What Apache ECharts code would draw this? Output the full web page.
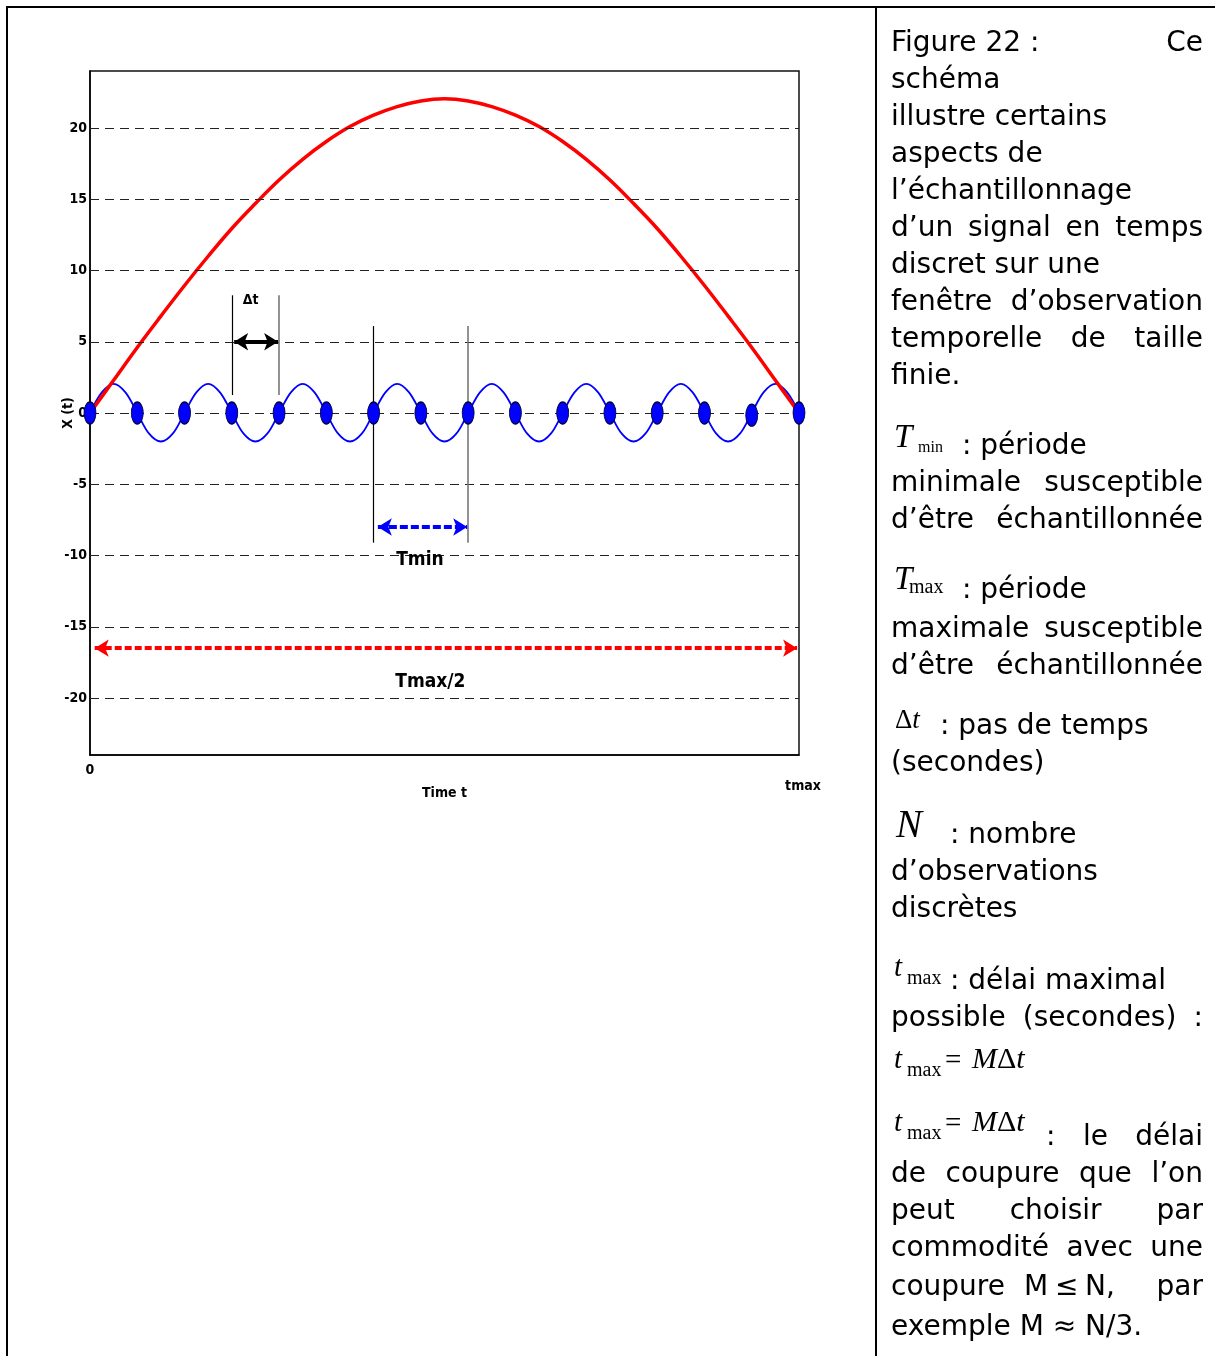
<!DOCTYPE html>
<html>
<head>
<meta charset="utf-8">
<script src="https://cdn.jsdelivr.net/npm/echarts@6/dist/echarts.min.js"></script>
<style>
  html, body { margin: 0; padding: 0; background: #fff; }
  #chart { width: 1215px; height: 1356px; }
</style>
</head>
<body>
<div id="chart"></div>
<script>
// ---- Data ---------------------------------------------------------------
// Sampling instants (multiples of the time step) and the sampled values
const sampleTimes  = [0, 1, 2, 3, 4, 5, 6, 7, 8, 9, 10, 11, 12, 13, 14, 15];
const sampleValues = [0, 0, 0, 0, 0, 0, 0, 0, 0, 0, 0, 0, 0, 0, -0.15, 0];

// Fast oscillation (period of two time steps)
const signalTimes = [
  0, 0.25, 0.5, 0.75, 1, 1.25, 1.5, 1.75, 2, 2.25, 2.5, 2.75, 3, 3.25, 3.5, 3.75,
  4, 4.25, 4.5, 4.75, 5, 5.25, 5.5, 5.75, 6, 6.25, 6.5, 6.75, 7, 7.25, 7.5, 7.75,
  8, 8.25, 8.5, 8.75, 9, 9.25, 9.5, 9.75, 10, 10.25, 10.5, 10.75, 11, 11.25, 11.5, 11.75,
  12, 12.25, 12.5, 12.75, 13, 13.25, 13.5, 13.75, 14, 14.25, 14.5, 14.75, 15
];
const signalValues = [
  0, 1.45, 2.05, 1.45, 0, -1.45, -2, -1.45, 0, 1.45, 2.05, 1.45, 0, -1.45, -2, -1.45,
  0, 1.45, 2.05, 1.45, 0, -1.45, -2, -1.45, 0, 1.45, 2.05, 1.45, 0, -1.45, -2, -1.45,
  0, 1.45, 2.05, 1.45, 0, -1.45, -2, -1.45, 0, 1.45, 2.05, 1.45, 0, -1.45, -2, -1.45,
  0, 1.45, 2.05, 1.45, 0, -1.45, -2, -1.45, 0, 1.45, 2.05, 1.45, 0
];

// Slow component: half a period spread over the observation window
const envelopeTimes = [
  0, 0.5, 1, 1.5, 2, 2.5, 3, 3.5, 4, 4.5, 5, 5.5, 6, 6.5, 7, 7.5,
  8, 8.5, 9, 9.5, 10, 10.5, 11, 11.5, 12, 12.5, 13, 13.5, 14, 14.5, 15
];
const envelopeValues = [
  0, 2.3, 4.6, 6.8, 8.95, 11.0, 12.95, 14.7, 16.35, 17.8, 19.05, 20.1, 20.9, 21.5, 21.9, 22.05,
  21.9, 21.5, 20.9, 20.1, 19.05, 17.8, 16.35, 14.7, 12.95, 11.0, 8.95, 6.8, 4.6, 2.3, 0
];

// Axis ticks
const yTickValues = [-20, -15, -10, -5, 0, 5, 10, 15, 20];
const xTickValues = [0, 15];
const xTickLabels = ['0', 'tmax'];

// Annotations (in axis units)
const annotationNames = ['\u0394t', 'Tmin', 'Tmax/2'];
const stepGuides  = { times: [3, 4], from: 1.26, to: 8.26 };
const stepArrow   = { from: 3.05, to: 3.98, level: 5 };
const tminGuides  = { times: [6, 8], from: -9.1, to: 6.1 };
const tminArrow   = { from: 6.09, to: 7.98, level: -8.0 };
const tmaxArrow   = { from: 0.1, to: 14.96, level: -16.5 };
const labelAnchors = [[3.4, 7.9], [6.98, -10.33], [7.2, -18.9]];

// ---- Styling ------------------------------------------------------------
const NARROW = "'Liberation Sans Narrow', 'Arial Narrow', 'DejaVu Sans Condensed', sans-serif";
const SERIF = "'Liberation Serif', 'Times New Roman', serif";
const BODY_SIZE = 28;
const BODY_FONT = BODY_SIZE + "px 'DejaVu Sans', Verdana, sans-serif";
const X0 = 891, X1 = 1203;
const SHIFT = 2;

const ellipsePath = 'path://M1,0 C1,0.552 0.552,1 0,1 C-0.552,1 -1,0.552 -1,0 C-1,-0.552 -0.552,-1 0,-1 C0.552,-1 1,-0.552 1,0 Z';

// ---- Caption text helpers -------------------------------------------------
const measureCtx = document.createElement('canvas').getContext('2d');
function measure(text, font) { measureCtx.font = font; return measureCtx.measureText(text).width; }

const captionEls = [];
function put(x, baseline, text, font, size, align) {
  const a = align || 'left';
  captionEls.push({
    type: 'text', x: x, y: baseline + SHIFT - 0.3 * size, silent: true,
    style: { text: text, font: font, fill: '#000', align: a, textAlign: a,
             verticalAlign: 'middle', textVerticalAlign: 'middle' }
  });
}
function body(x, baseline, text, align) { put(x, baseline, text, BODY_FONT, BODY_SIZE, align); }
function justify(baseline, words) {
  const widths = words.map(w => measure(w, BODY_FONT));
  const total = widths.reduce((a, b) => a + b, 0);
  const gap = words.length > 1 ? (X1 - X0 - total) / (words.length - 1) : 0;
  let x = X0;
  words.forEach((w, i) => { body(x, baseline, w); x += widths[i] + gap; });
}
function italic(size) { return 'italic ' + size + 'px ' + SERIF; }
function roman(size) { return size + 'px ' + SERIF; }
// "t_max" with an optional "= MΔt"
function tmaxSymbol(x, base, withEquation) {
  put(x, base, 't', italic(29), 29);
  put(x + 13, base + 8, 'max', roman(20), 20);
  if (withEquation) {
    put(x + 51, base + 1, '=', roman(29), 29);
    let mx = x + 78;
    put(mx, base, 'M', italic(30), 30);
    mx += measure('M', italic(30));
    put(mx, base, '\u0394', roman(30), 30);
    mx += measure('\u0394', roman(30));
    put(mx, base, 't', italic(30), 30);
  }
}

// Paragraph 1
justify(50, ['Figure 22 :', 'Ce']);
body(X0, 87, 'sch\u00e9ma');
body(X0, 124, 'illustre certains');
body(X0, 161, 'aspects de');
body(X0, 198, 'l\u2019\u00e9chantillonnage');
justify(235, ['d\u2019un', 'signal', 'en', 'temps']);
body(X0, 272, 'discret sur une');
justify(309, ['fen\u00eatre', 'd\u2019observation']);
justify(346, ['temporelle', 'de', 'taille']);
body(X0, 383, 'finie.');

// T_min
put(894, 446, 'T', italic(33), 33);
put(918, 451, 'min', roman(16), 16);
body(962, 453, ': p\u00e9riode');
justify(490, ['minimale', 'susceptible']);
justify(527, ['d\u2019\u00eatre', '\u00e9chantillonn\u00e9e']);

// T_max
put(894, 588, 'T', italic(33), 33);
put(909, 592, 'max', roman(20), 20);
body(962, 597, ': p\u00e9riode');
justify(636, ['maximale', 'susceptible']);
justify(673, ['d\u2019\u00eatre', '\u00e9chantillonn\u00e9e']);

// Δt
put(895, 727, '\u0394', roman(27), 27);
put(895 + measure('\u0394', roman(27)), 727, 't', italic(27), 27);
body(940, 733, ': pas de temps');
body(X0, 770, '(secondes)');

// N
put(896, 836, 'N', italic(39), 39);
body(950, 842, ': nombre');
body(X0, 879, 'd\u2019observations');
body(X0, 916, 'discr\u00e8tes');

// t_max
tmaxSymbol(894, 975, false);
body(950, 988, ': d\u00e9lai maximal');
justify(1025, ['possible', '(secondes)', ':']);
tmaxSymbol(894, 1067, true);

// t_max = MΔt : cut-off
tmaxSymbol(894, 1130, true);
body(1046, 1144, ':');
body(1083, 1144, 'le');
body(X1, 1144, 'd\u00e9lai', 'right');
justify(1181, ['de', 'coupure', 'que', 'l\u2019on']);
justify(1218, ['peut', 'choisir', 'par']);
justify(1255, ['commodit\u00e9', 'avec', 'une']);
body(X0, 1294, 'coupure');
body(1024, 1294, 'M');
body(1055, 1294, '\u2264');
body(1085, 1294, 'N,');
body(X1, 1294, 'par', 'right');
body(X0, 1334, 'exemple M \u2248 N/3.');

// Table rules around the figure and its caption
const tableRules = [
  { type: 'line', silent: true, shape: { x1: 6, y1: 7, x2: 1215, y2: 7 }, style: { stroke: '#000', lineWidth: 2 } },
  { type: 'line', silent: true, shape: { x1: 7, y1: 6, x2: 7, y2: 1356 }, style: { stroke: '#000', lineWidth: 2 } },
  { type: 'line', silent: true, shape: { x1: 876, y1: 6, x2: 876, y2: 1356 }, style: { stroke: '#000', lineWidth: 2 } }
];

// ---- Chart --------------------------------------------------------------
const pairs = (xs, ys) => xs.map((x, i) => [x, ys[i]]);
const axisFont = { fontFamily: NARROW, fontWeight: 'bold', color: '#000' };

function vGuide(t, from, to, color, width) {
  return [{ coord: [t, from], lineStyle: { color: color, width: width, type: 'solid' } }, { coord: [t, to] }];
}
function hArrow(a, color, width, dash) {
  return [{ coord: [a.from, a.level], lineStyle: { color: color, width: width, type: dash } }, { coord: [a.to, a.level] }];
}

const option = {
  animation: false,
  backgroundColor: '#fff',
  grid: {
    left: 90, right: 416, top: 71, bottom: 601,
    show: true, borderColor: '#111', borderWidth: 1.5,
    containLabel: false, outerBoundsMode: 'none'
  },
  xAxis: {
    type: 'value', min: 0, max: 15,
    axisLine: { show: true, onZero: false, lineStyle: { color: '#000', width: 1.5 } },
    axisTick: { show: false },
    splitLine: { show: false },
    axisLabel: {
      customValues: xTickValues,
      margin: 8,
      formatter: v => {
        const i = xTickValues.indexOf(v);
        return i === 0 ? '{zero|' + xTickLabels[0] + '}' : '{end|' + xTickLabels[i] + '}';
      },
      rich: {
        zero: Object.assign({ fontSize: 14 }, axisFont),
        end: Object.assign({ fontSize: 14, padding: [16, 0, 0, 8] }, axisFont)
      }
    },
    name: 'Time t', nameLocation: 'middle', nameGap: 31, nameMoveOverlap: false,
    nameTextStyle: Object.assign({ fontSize: 14 }, axisFont)
  },
  yAxis: {
    type: 'value', min: -24, max: 24,
    axisLine: { show: true, onZero: false, lineStyle: { color: '#000', width: 1.5 } },
    axisTick: { show: false },
    splitLine: { show: false },
    axisLabel: Object.assign({ customValues: yTickValues, margin: 3, fontSize: 14 }, axisFont),
    name: 'X (t)', nameLocation: 'middle', nameGap: 15, nameMoveOverlap: false,
    nameTextStyle: Object.assign({ fontSize: 14 }, axisFont)
  },
  series: [
    {
      // dashed reference levels
      type: 'line', data: [], z: 1, silent: true,
      markLine: {
        silent: true, symbol: 'none', animation: false,
        label: { show: false },
        lineStyle: { color: '#222', width: 1, type: [9, 6] },
        data: yTickValues.map(v => ({ yAxis: v }))
      }
    },
    {
      type: 'line', name: 'signal', data: pairs(signalTimes, signalValues),
      smooth: 0.35, symbol: 'none', z: 2,
      lineStyle: { color: '#0000ff', width: 1.8 }
    },
    {
      type: 'line', name: 'envelope', data: pairs(envelopeTimes, envelopeValues),
      smooth: 0.4, symbol: 'none', z: 3,
      lineStyle: { color: '#ff0000', width: 3.5 }
    },
    {
      // vertical guides
      type: 'line', data: [], z: 4, silent: true,
      markLine: {
        silent: true, symbol: 'none', animation: false, label: { show: false },
        data: [
          vGuide(stepGuides.times[0], stepGuides.from, stepGuides.to, '#000', 1.2),
          vGuide(stepGuides.times[1], stepGuides.from, stepGuides.to, '#777', 1.6),
          vGuide(tminGuides.times[0], tminGuides.from, tminGuides.to, '#000', 1.2),
          vGuide(tminGuides.times[1], tminGuides.from, tminGuides.to, '#777', 1.6)
        ]
      }
    },
    {
      // double arrows
      type: 'line', data: [], z: 5, silent: true,
      markLine: {
        silent: true, symbol: ['arrow', 'arrow'], symbolSize: [13, 14], animation: false,
        label: { show: false },
        data: [
          hArrow(stepArrow, '#000', 4, 'solid'),
          hArrow(tminArrow, '#0000ff', 4, [8, 3]),
          hArrow(tmaxArrow, '#ff0000', 4, [7, 3])
        ]
      }
    },
    {
      type: 'scatter', name: 'samples', data: pairs(sampleTimes, sampleValues), z: 6,
      symbol: ellipsePath, symbolSize: [12, 22], symbolKeepAspect: false,
      itemStyle: { color: '#0000ff', opacity: 1, borderColor: '#000033', borderWidth: 1 }
    },
    {
      type: 'scatter', name: 'annotations', z: 7, silent: true,
      symbolSize: 1, itemStyle: { color: 'rgba(0,0,0,0)', opacity: 1 },
      data: labelAnchors.map((p, i) => ({
        name: annotationNames[i], value: p,
        label: {
          show: true, position: 'inside', formatter: '{b}',
          fontSize: i === 0 ? 14 : 19, fontFamily: NARROW, fontWeight: 'bold',
          color: '#000', opacity: 1, textBorderWidth: 0
        }
      }))
    }
  ],
  graphic: tableRules.concat(captionEls)
};

const chart = echarts.init(document.getElementById('chart'), null, { renderer: 'canvas' });
chart.setOption(option);
</script>
</body>
</html>
